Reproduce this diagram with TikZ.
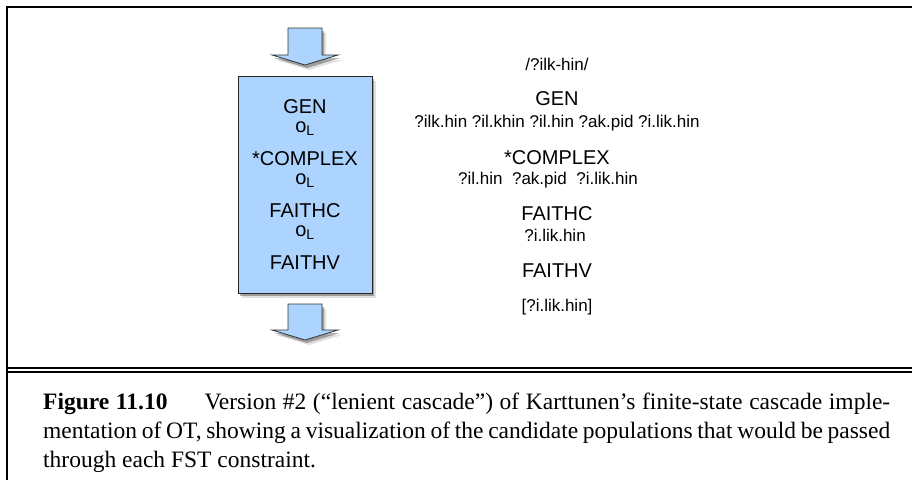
\documentclass[tikz,border=0pt]{standalone}
\usepackage{fontspec}
\setmainfont{Liberation Serif}
\newfontfamily\helv{Liberation Sans}
\usepackage{xcolor}
\usepackage{tikz}
\usetikzlibrary{shadows}
\definecolor{cascadeblue}{RGB}{172,212,255}

\begin{document}
\begin{tikzpicture}[
x=1pt, y=-1pt,
softshadow/.style={drop shadow={shadow xshift=2pt, shadow yshift=-3pt, opacity=0.3, fill=black}, drop shadow={shadow xshift=4pt, shadow yshift=-5pt, opacity=0.12, fill=black}},
stagebox/.style={draw=black!85, fill=cascadeblue, line width=0.8pt, minimum width=134pt, minimum height=217pt, align=center, inner sep=0pt, font=\helv\fontsize{20}{26}\selectfont, softshadow},
flowarrow/.style={draw=black!80, fill=cascadeblue, line width=0.8pt, line join=miter, softshadow},
big/.style={anchor=base, inner sep=0pt, font=\helv\fontsize{20}{24}\selectfont},
small/.style={anchor=base, inner sep=0pt, font=\helv\fontsize{17}{20}\selectfont},
frame/.style={line width=2pt},
capfont/.style={font=\fontsize{23.5}{29}\selectfont}
]
\useasboundingbox (0,0) rectangle (912,480);

\node[stagebox] (cascade) at (305,184.5) {GEN\\[-7pt]
o\textsubscript{L}\\[7pt]
*COMPLEX\\[-7pt]
o\textsubscript{L}\\[7pt]
FAITHC\\[-7pt]
o\textsubscript{L}\\[7pt]
FAITHV};

\draw[flowarrow] (288,28) -- (322,28) -- (322,55) -- (338,55) -- (305,65) -- (272,55) -- (288,55) -- cycle;
\draw[flowarrow] (288,304) -- (322,304) -- (322,330) -- (338,330) -- (305,340) -- (272,330) -- (288,330) -- cycle;

\node[small] (input) at (557,70) {/?ilk-hin/};
\node[big] (gen) at (557,105) {GEN};
\node[small] (genout) at (557,127) {?ilk.hin ?il.khin ?il.hin ?ak.pid ?i.lik.hin};
\node[big] (complex) at (557,164) {*COMPLEX};
\node[small] (complexout) at (548,184) {?il.hin\ \ ?ak.pid\ \ ?i.lik.hin};
\node[big] (faithc) at (557,220) {FAITHC};
\node[small] (faithcout) at (555,241) {?i.lik.hin};
\node[big] (faithv) at (557,277) {FAITHV};
\node[small] (output) at (557,311) {[?i.lik.hin]};

\draw[frame] (912,7) -- (7,7) -- (7,480);
\draw[line width=1.7pt] (7,367.7) -- (912,367.7);
\draw[line width=1.7pt] (7,372) -- (912,372);

\node[capfont, anchor=base west, inner sep=0pt, text width=847pt, align=justify] (caption) at (43,409) {\textbf{Figure 11.10}\hspace{37pt}Version \#2 (“lenient cascade”) of Karttunen’s finite-state cascade imple-\linebreak mentation of OT, showing a visualization of the candidate populations that would be passed\linebreak through each FST constraint.};
\end{tikzpicture}
\end{document}
